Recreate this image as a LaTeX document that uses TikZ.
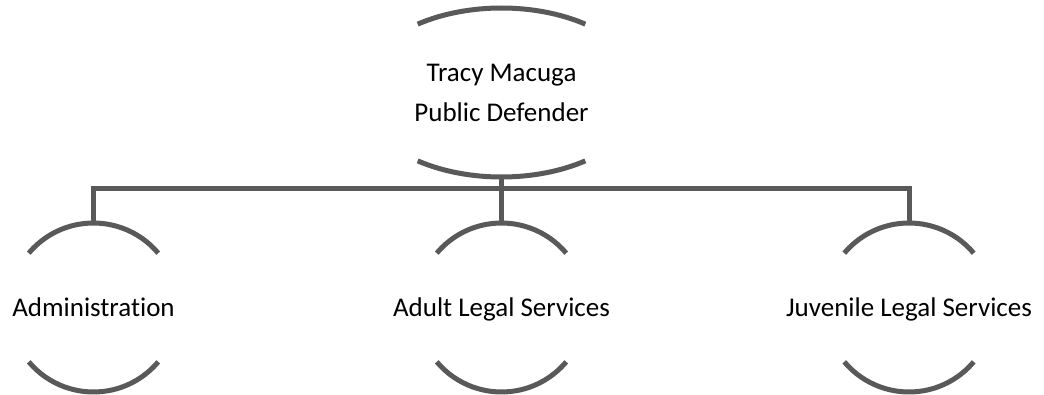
\documentclass[tikz,border=0pt]{standalone}
\usepackage{fontspec}
\setmainfont{Carlito}[Ligatures={NoCommon}]
\usetikzlibrary{shapes.geometric}
\definecolor{gris}{RGB}{89,89,89}
\begin{document}
\begin{tikzpicture}[x=1pt,y=1pt,
    linea/.style={gris,line width=5pt},
    caja/.style={circle,minimum size=169pt,inner sep=0pt},
    texto/.style={font=\fontsize{27}{40}\selectfont,text=black,align=center,
                  text height=20pt,text depth=3pt}]
    \useasboundingbox (0,0) rectangle (1044,394);

    % Nodos
    \node[ellipse,minimum width=285pt,minimum height=169pt,inner sep=0pt,
          label={[texto,yshift=-21pt]center:Tracy Macuga\\Public Defender}] (jefa) at (501.5,301.5) {};
    \node[caja,label={[texto]center:Administration}] (admin) at (93.5,86.5) {};
    \node[caja,label={[texto]center:Adult Legal Services}] (adultos) at (501.5,86.5) {};
    \node[caja,label={[texto]center:Juvenile Legal Services}] (juvenil) at (909,86.5) {};

    % Arcos
    \draw[linea] (jefa.center) ++(54:142.6 and 84.5) arc[start angle=54,end angle=126,x radius=142.6,y radius=84.5];
    \draw[linea] (jefa.center) ++(234:142.6 and 84.5) arc[start angle=234,end angle=306,x radius=142.6,y radius=84.5];
    \foreach \n in {admin,adultos,juvenil} {
        \draw[linea] (\n.center) ++(40:84.5) arc[start angle=40,end angle=140,radius=84.5];
        \draw[linea] (\n.center) ++(220:84.5) arc[start angle=220,end angle=320,radius=84.5];
    }

    % Conectores
    \coordinate (barra) at (501.5,205.5);
    \draw[linea] (jefa.south) -- (barra);
    \draw[linea] (admin.north) |- (barra) -| (juvenil.north);
    \draw[linea] (barra) -- (adultos.north);
\end{tikzpicture}
\end{document}
